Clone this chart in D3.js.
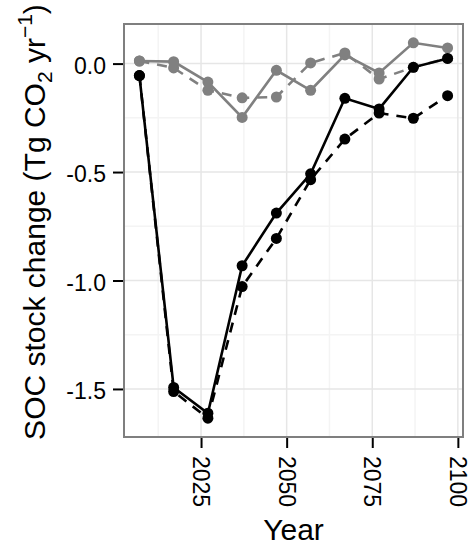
<!DOCTYPE html>
<html>
<head>
<meta charset="utf-8">
<script src="https://cdnjs.cloudflare.com/ajax/libs/d3/7.8.5/d3.min.js"></script>
<style>
  body { margin: 0; background: #fff; }
  svg text { font-family: "Liberation Sans", Arial, Helvetica, sans-serif; fill: #000; }
</style>
</head>
<body>
<div id="chart"></div>
<script>
// years of the decade points
var years = [2007, 2017, 2027, 2037, 2047, 2057, 2067, 2077, 2087, 2097];

// SOC stock change values
var blackSolid  = [-0.055, -1.493, -1.612, -0.932, -0.689, -0.508, -0.160, -0.209, -0.017, 0.024];
var blackDashed = [-0.055, -1.512, -1.635, -1.028, -0.806, -0.535, -0.348, -0.228, -0.252, -0.148];
var greySolid   = [0.012, 0.009, -0.085, -0.248, -0.031, -0.123, 0.040, -0.043, 0.096, 0.072];
var greyDashed  = [0.012, -0.020, -0.123, -0.158, -0.154, 0.003, 0.049, -0.071, -0.017, 0.024];

var xTicks = [2025, 2050, 2075, 2100];
var xMinor = [2012.5, 2037.5, 2062.5, 2087.5];
var yTicks = [0, -0.5, -1.0, -1.5];
var yMinor = [-0.25, -0.75, -1.25];

// series drawn grey first so black sits on top
var series = [
    { values: greyDashed,  color: '#808080', dash: '10,8' },
    { values: greySolid,   color: '#808080', dash: null },
    { values: blackDashed, color: '#000000', dash: '10,8' },
    { values: blackSolid,  color: '#000000', dash: null }
];

var width = 470, height = 545;
var panel = { left: 124, right: 463, top: 24, bottom: 437 };

var svg = d3.select('#chart').append('svg')
    .attr('width', width)
    .attr('height', height);

svg.append('rect').attr('width', width).attr('height', height).attr('fill', '#fff');

// ggplot style 5% expansion of the data range
var xExt = d3.extent(years);
var xPad = (xExt[1] - xExt[0]) * 0.05;
var allY = d3.merge(series.map(function(s) { return s.values; }));
var yExt = d3.extent(allY);
var yPad = (yExt[1] - yExt[0]) * 0.05;

var x = d3.scaleLinear().domain([xExt[0] - xPad, xExt[1] + xPad]).range([panel.left, panel.right]);
var y = d3.scaleLinear().domain([yExt[0] - yPad, yExt[1] + yPad]).range([panel.bottom, panel.top]);

var pw = panel.right - panel.left, ph = panel.bottom - panel.top;

// grid lines
var grid = svg.append('g');
grid.selectAll('.xminor').data(xMinor).enter().append('line')
    .attr('x1', function(d) { return x(d); }).attr('x2', function(d) { return x(d); })
    .attr('y1', panel.top).attr('y2', panel.bottom)
    .attr('stroke', '#f4f4f4').attr('stroke-width', 1.5);
grid.selectAll('.yminor').data(yMinor).enter().append('line')
    .attr('y1', function(d) { return y(d); }).attr('y2', function(d) { return y(d); })
    .attr('x1', panel.left).attr('x2', panel.right)
    .attr('stroke', '#f4f4f4').attr('stroke-width', 1.5);
grid.selectAll('.xmajor').data(xTicks).enter().append('line')
    .attr('x1', function(d) { return x(d); }).attr('x2', function(d) { return x(d); })
    .attr('y1', panel.top).attr('y2', panel.bottom)
    .attr('stroke', '#e6e6e6').attr('stroke-width', 1.5);
grid.selectAll('.ymajor').data(yTicks).enter().append('line')
    .attr('y1', function(d) { return y(d); }).attr('y2', function(d) { return y(d); })
    .attr('x1', panel.left).attr('x2', panel.right)
    .attr('stroke', '#e6e6e6').attr('stroke-width', 1.5);

// lines and points
var line = d3.line()
    .x(function(d, i) { return x(years[i]); })
    .y(function(d) { return y(d); });

series.forEach(function(s) {
    var g = svg.append('g');
    g.append('path')
        .datum(s.values)
        .attr('d', line)
        .attr('fill', 'none')
        .attr('stroke', s.color)
        .attr('stroke-width', 2.6)
        .attr('stroke-dasharray', s.dash);
    g.selectAll('circle').data(s.values).enter().append('circle')
        .attr('cx', function(d, i) { return x(years[i]); })
        .attr('cy', function(d) { return y(d); })
        .attr('r', 5.5)
        .attr('fill', s.color);
});

// panel border
svg.append('rect')
    .attr('x', panel.left).attr('y', panel.top)
    .attr('width', pw).attr('height', ph)
    .attr('fill', 'none').attr('stroke', '#7f7f7f').attr('stroke-width', 2);

// x axis
var xAxis = svg.append('g')
    .attr('transform', 'translate(0,' + (panel.bottom + 1) + ')')
    .call(d3.axisBottom(x).tickValues(xTicks).tickSize(10).tickFormat(d3.format('d')));
xAxis.select('.domain').remove();
xAxis.selectAll('line').attr('stroke', '#000').attr('stroke-width', 2);
xAxis.selectAll('text')
    .style('font-size', '23px')
    .attr('transform', 'rotate(90)')
    .attr('x', 18)
    .attr('y', 0)
    .attr('dy', '0.36em')
    .style('text-anchor', 'start');

// y axis, plain hyphen for negatives like the original
var yAxis = svg.append('g')
    .attr('transform', 'translate(' + (panel.left - 1) + ',0)')
    .call(d3.axisLeft(y).tickValues(yTicks).tickSize(10).tickFormat(function(d) { return d.toFixed(1); }));
yAxis.select('.domain').remove();
yAxis.selectAll('line').attr('stroke', '#000').attr('stroke-width', 2);
yAxis.selectAll('text')
    .style('font-size', '23px')
    .attr('x', -17)
    .attr('dy', '0.42em');

// axis titles
svg.append('text')
    .attr('x', (panel.left + panel.right) / 2)
    .attr('y', 540)
    .style('text-anchor', 'middle')
    .style('font-size', '30px')
    .text('Year');

var yTitle = svg.append('text')
    .attr('transform', 'translate(45,222) rotate(-90)')
    .style('text-anchor', 'middle')
    .style('font-size', '30px');
yTitle.append('tspan').text('SOC stock change (Tg CO');
yTitle.append('tspan').attr('dy', 7).style('font-size', '21px').text('2');
yTitle.append('tspan').attr('dy', -7).text(' yr');
yTitle.append('tspan').attr('dy', -13).style('font-size', '21px').text('\u22121');
yTitle.append('tspan').attr('dy', 13).text(')');
</script>
</body>
</html>
